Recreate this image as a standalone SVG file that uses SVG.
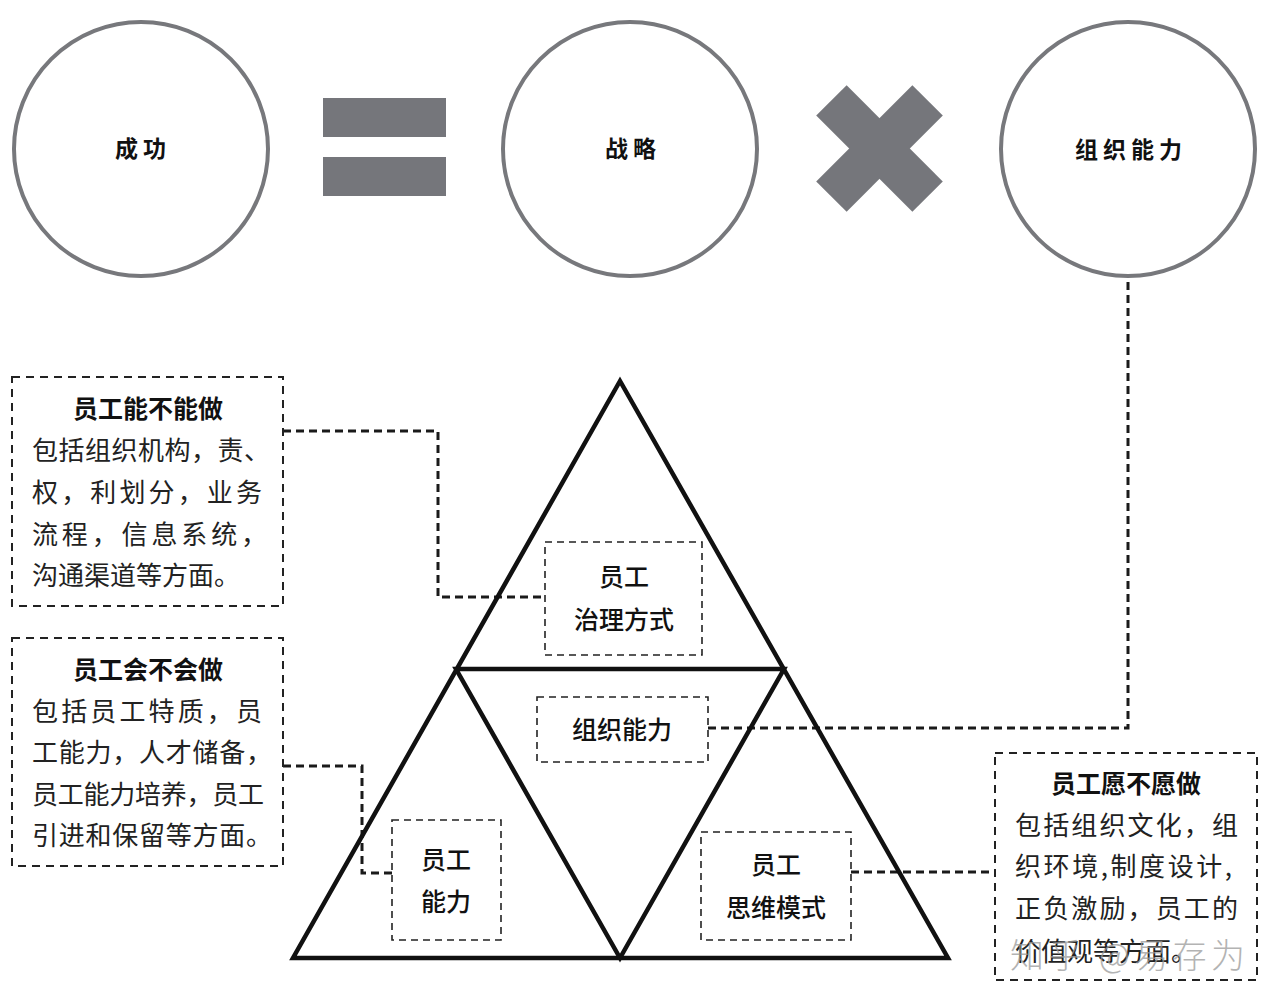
<svg xmlns="http://www.w3.org/2000/svg" width="1280" height="1004" viewBox="0 0 1280 1004">
<style>
.circ{fill:#fff;stroke:#77787c;stroke-width:4}
.sym{fill:#75767b}
.ctext{font-family:"Noto Sans CJK SC","Noto Sans",sans-serif;font-size:23px;font-weight:700;fill:#111;text-anchor:middle;letter-spacing:5px}
.tri{fill:none;stroke:#111;stroke-width:4.5;stroke-linejoin:miter}
.ibox{fill:#fff;stroke:#222;stroke-width:1.6;stroke-dasharray:7 5}
.obox{fill:#fff;stroke:#222;stroke-width:2;stroke-dasharray:8 6}
.conn{fill:none;stroke:#1a1a1a;stroke-width:3;stroke-dasharray:8 5}
.lbl{font-family:"Noto Sans CJK SC","Noto Sans",sans-serif;font-size:25px;font-weight:500;fill:#111;text-anchor:middle}
.ttl{font-family:"Noto Sans CJK SC","Noto Sans",sans-serif;font-size:25px;font-weight:700;fill:#111;text-anchor:middle}
.body{font-family:"Noto Sans CJK SC","Noto Sans",sans-serif;font-size:26px;font-weight:400;fill:#222}
.wm{font-family:"Noto Sans CJK SC","Noto Sans",sans-serif;font-size:34px;font-weight:300;fill:#9a9a9a;opacity:0.75}
</style>
<rect width="1280" height="1004" fill="#fff"/>

<g id="connectors">
<path class="conn" d="M283,431 H438 V597 H545"/>
<path class="conn" d="M283,766 H362 V873 H392"/>
<path class="conn" d="M851,872 H995"/>
<path class="conn" d="M708,728 H1128 V276"/>
</g>

<g id="node-success">
<circle class="circ" cx="141" cy="149" r="127"/>
<text class="ctext" x="143" y="157">成功</text>
</g>
<g id="equals">
<rect class="sym" x="323" y="98" width="123" height="39"/>
<rect class="sym" x="323" y="157" width="123" height="39"/>
</g>
<g id="node-strategy">
<circle class="circ" cx="630" cy="149" r="127"/>
<text class="ctext" x="633" y="157">战略</text>
</g>
<g id="times">
<rect class="sym" x="811.5" y="127" width="136" height="43" transform="rotate(45 879.5 148.5)"/>
<rect class="sym" x="811.5" y="127" width="136" height="43" transform="rotate(-45 879.5 148.5)"/>
</g>
<g id="node-org">
<circle class="circ" cx="1128" cy="149" r="127"/>
<text class="ctext" x="1131" y="158">组织能力</text>
</g>

<g id="pyramid">
<polygon class="tri" points="620,381 293,958 948,958"/>
<polygon class="tri" points="456,669 784,669 620,958"/>
</g>

<g id="box-governance">
<rect class="ibox" x="545" y="542" width="157" height="113"/>
<text class="lbl" x="624" y="586">员工</text>
<text class="lbl" x="624" y="629">治理方式</text>
</g>
<g id="box-orgcap">
<rect class="ibox" x="537" y="697" width="171" height="65"/>
<text class="lbl" x="622" y="739">组织能力</text>
</g>
<g id="box-ability">
<rect class="ibox" x="392" y="820" width="109" height="120"/>
<text class="lbl" x="446" y="869">员工</text>
<text class="lbl" x="446" y="911">能力</text>
</g>
<g id="box-mindset">
<rect class="ibox" x="701" y="832" width="150" height="108"/>
<text class="lbl" x="776" y="874">员工</text>
<text class="lbl" x="776" y="917">思维模式</text>
</g>

<g id="note-can">
<rect class="obox" x="12" y="377" width="271" height="229"/>
<text class="ttl" x="148" y="418">员工能不能做</text>
<text class="body" x="32" y="460" textLength="238" lengthAdjust="spacing">包括组织机构，责、</text>
<text class="body" x="32" y="502" textLength="230" lengthAdjust="spacing">权，利划分，业务</text>
<text class="body" x="32" y="544" textLength="235" lengthAdjust="spacing">流程，信息系统，</text>
<text class="body" x="32" y="585">沟通渠道等方面。</text>
</g>
<g id="note-know">
<rect class="obox" x="12" y="638" width="271" height="228"/>
<text class="ttl" x="148" y="679">员工会不会做</text>
<text class="body" x="32" y="721" textLength="230" lengthAdjust="spacing">包括员工特质，员</text>
<text class="body" x="32" y="762" textLength="240" lengthAdjust="spacing">工能力，人才储备，</text>
<text class="body" x="32" y="804" textLength="232" lengthAdjust="spacing">员工能力培养，员工</text>
<text class="body" x="32" y="845" textLength="240" lengthAdjust="spacing">引进和保留等方面。</text>
</g>
<g id="note-will">
<rect class="obox" x="995" y="753" width="262" height="227"/>
<text class="ttl" x="1126" y="793">员工愿不愿做</text>
<text class="body" x="1015" y="835" textLength="223" lengthAdjust="spacing">包括组织文化，组</text>
<text class="body" x="1015" y="876" textLength="217" lengthAdjust="spacing">织环境,制度设计,</text>
<text class="body" x="1015" y="918" textLength="223" lengthAdjust="spacing">正负激励，员工的</text>
<text class="body" x="1015" y="961">价值观等方面。</text>
<text class="wm" x="1010" y="968" textLength="235" lengthAdjust="spacing">知乎 @易存为</text>
</g>
</svg>
